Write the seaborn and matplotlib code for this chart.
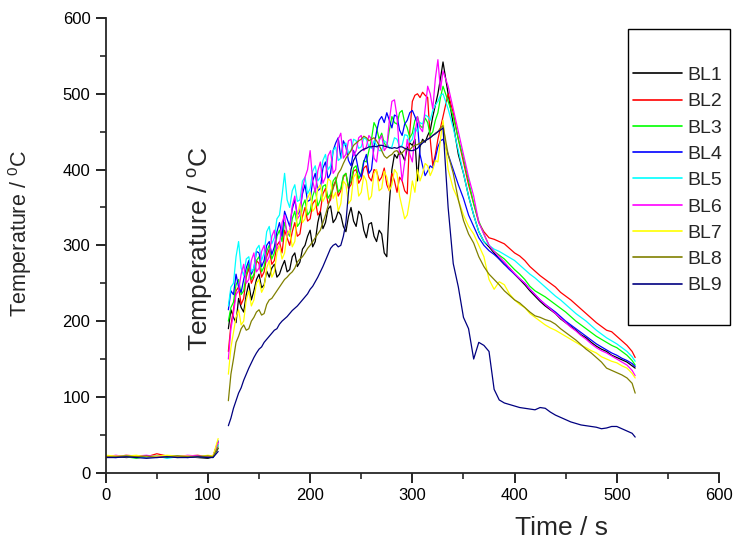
import matplotlib
matplotlib.use("Agg")
import numpy as np
import pandas as pd
import matplotlib.pyplot as plt
import seaborn as sns
from matplotlib.ticker import MultipleLocator
from matplotlib.lines import Line2D
from matplotlib.patches import Rectangle

# ---------------- data ----------------
series = ["BL1", "BL2", "BL3", "BL4", "BL5", "BL6", "BL7", "BL8", "BL9"]
colors = ["#000000", "#ff0000", "#00ff00", "#0000ff", "#00ffff",
          "#ff00ff", "#ffff00", "#808000", "#000080"]

time_base = [0, 10, 20, 30, 40, 50, 60, 70, 80, 90, 100, 105, 110]
time_fire = [120, 122.5, 125, 127.5, 130, 132.5, 135, 137.5, 140, 142.5,
             145, 147.5, 150, 152.5, 155, 157.5, 160, 162.5, 165, 167.5,
             170, 172.5, 175, 177.5, 180, 182.5, 185, 187.5, 190, 192.5,
             195, 197.5, 200, 202.5, 205, 207.5, 210, 212.5, 215, 217.5,
             220, 222.5, 225, 227.5, 230, 232.5, 235, 237.5, 240, 242.5,
             245, 247.5, 250, 252.5, 255, 257.5, 260, 262.5, 265, 267.5,
             270, 272.5, 275, 277.5, 280, 282.5, 285, 287.5, 290, 292.5,
             295, 297.5, 300, 302.5, 305, 307.5, 310, 312.5, 315, 317.5,
             320, 322.5, 325, 327.5, 330,
             335, 340, 345, 350, 355, 360, 365, 370, 375, 380, 385, 390,
             395, 400, 405, 410, 415, 420, 425, 430, 435, 440, 445, 450,
             455, 460, 465, 470, 475, 480, 485, 490, 495, 500, 505, 510,
             515, 518]

BL1_base = [21, 22, 20, 21, 22, 21, 20, 22, 21, 20, 19, 21, 32]
BL2_base = [22, 21, 23, 22, 21, 25, 22, 21, 22, 23, 21, 22, 40]
BL3_base = [20, 22, 21, 19, 22, 21, 22, 20, 21, 22, 20, 21, 37]
BL4_base = [21, 20, 22, 21, 20, 22, 21, 22, 20, 21, 22, 21, 42]
BL5_base = [22, 21, 22, 20, 21, 22, 19, 21, 22, 21, 22, 20, 36]
BL6_base = [21, 23, 21, 22, 23, 21, 22, 21, 23, 22, 21, 22, 40]
BL7_base = [23, 22, 22, 23, 21, 22, 23, 22, 22, 21, 23, 22, 45]
BL8_base = [21, 21, 22, 21, 22, 20, 21, 22, 21, 21, 22, 21, 34]
BL9_base = [20, 20, 21, 20, 19, 20, 21, 20, 20, 21, 20, 20, 28]

BL1_fire = [190, 215, 205, 198, 230, 218, 212, 235, 250, 228, 240, 255, 262,
            244, 248, 266, 258, 270, 275, 258, 262, 272, 280, 265, 268, 285,
            290, 272, 278, 295, 300, 312, 320, 298, 305, 330, 345, 322, 330,
            348, 352, 330, 335, 345, 340, 325, 318, 338, 350, 332, 325, 345,
            340, 320, 310, 328, 330, 312, 305, 320, 315, 290, 285, 356, 400,
            420, 415, 425, 420, 412, 428, 435, 432, 440, 385, 430, 440, 436,
            445, 452, 470, 485, 500, 520, 542,
            500, 460, 420, 395, 365, 340, 318, 305, 298, 290, 282, 275, 270,
            262, 255, 248, 240, 233, 226, 220, 215, 210, 203, 198, 193, 188,
            182, 178, 172, 167, 163, 160, 155, 152, 149, 146, 141, 138]
BL2_fire = [160, 195, 215, 240, 245, 222, 230, 258, 270, 250, 258, 280, 276,
            258, 265, 285, 295, 275, 280, 300, 305, 290, 320, 310, 300, 318,
            330, 312, 315, 338, 350, 332, 335, 355, 360, 340, 345, 368, 375,
            355, 360, 378, 385, 365, 372, 390, 395, 375, 380, 398, 400, 382,
            388, 402, 405, 390, 385, 400, 398, 385, 390, 402, 380, 372, 395,
            385, 370, 390, 385, 372, 368, 450, 490, 498, 500, 495, 502, 498,
            495, 440, 405, 420, 440, 455, 470,
            500, 475, 440, 410, 380, 355, 330, 318, 310, 308, 305, 302, 296,
            290, 286, 280, 272, 266, 260, 255, 250, 245, 238, 233, 228, 222,
            216, 210, 204, 198, 193, 188, 186, 180, 174, 168, 160, 152]
BL3_fire = [200, 218, 225, 248, 255, 235, 240, 262, 275, 255, 262, 280, 285,
            265, 272, 292, 300, 282, 290, 312, 320, 305, 330, 318, 312, 335,
            345, 325, 330, 352, 360, 340, 345, 365, 375, 352, 360, 378, 380,
            362, 368, 385, 390, 370, 375, 392, 395, 378, 385, 402, 405, 388,
            395, 412, 410, 425, 440, 462, 455, 440, 448, 435, 430, 452, 470,
            462, 460, 475, 478, 462, 455, 442, 448, 465, 470, 458, 455, 468,
            462, 445, 450, 465, 475, 495, 510,
            490, 470, 440, 415, 385, 355, 332, 315, 300, 292, 287, 282, 275,
            268, 262, 255, 246, 240, 236, 232, 227, 222, 217, 212, 206, 200,
            195, 190, 185, 180, 176, 172, 168, 165, 160, 155, 148, 142]
BL4_fire = [215, 240, 235, 262, 245, 238, 255, 270, 280, 262, 270, 292, 290,
            272, 280, 300, 305, 288, 298, 318, 330, 312, 345, 335, 325, 348,
            360, 340, 345, 368, 380, 358, 360, 385, 395, 372, 375, 402, 410,
            388, 395, 425, 435, 442, 415, 438, 430, 412, 405, 425, 415, 398,
            390, 410, 420, 395, 400, 430, 450, 465, 470, 462, 475, 465, 455,
            472, 470, 452, 445, 460, 465, 475, 478, 470, 460, 420, 405, 392,
            398, 405, 402, 415, 430, 438, 440,
            420, 400, 380, 362, 340, 325, 310, 300, 293, 288, 282, 275, 268,
            262, 256, 250, 242, 235, 228, 222, 217, 212, 206, 200, 195, 190,
            185, 180, 175, 170, 166, 162, 158, 155, 151, 148, 144, 140]
BL5_fire = [220, 245, 250, 285, 305, 270, 260, 282, 285, 265, 270, 295, 300,
            280, 290, 318, 325, 302, 310, 335, 340, 365, 395, 360, 350, 372,
            380, 358, 360, 385, 390, 368, 375, 398, 405, 385, 390, 412, 420,
            400, 405, 425, 430, 412, 415, 432, 435, 422, 425, 440, 438, 428,
            430, 442, 440, 430, 428, 438, 432, 425, 425, 438, 435, 428, 430,
            442, 440, 430, 432, 446, 445, 436, 440, 455, 450, 462, 460, 472,
            470, 465, 478, 485, 490, 498, 500,
            480, 455, 425, 395, 365, 340, 318, 305, 300, 295, 292, 288, 284,
            280, 274, 268, 262, 257, 251, 245, 239, 233, 228, 222, 216, 210,
            205, 200, 194, 188, 183, 178, 174, 170, 165, 160, 153, 147]
BL6_fire = [150, 190, 210, 235, 240, 262, 275, 250, 255, 280, 290, 265, 270,
            292, 300, 278, 285, 312, 320, 295, 300, 330, 340, 312, 320, 352,
            365, 335, 340, 375, 390, 400, 425, 385, 370, 398, 410, 382, 390,
            418, 425, 395, 400, 440, 448, 415, 420, 438, 440, 418, 425, 442,
            445, 425, 430, 445, 440, 415, 410, 438, 445, 425, 430, 465, 490,
            492, 470, 420, 385, 410, 440, 420, 410, 445, 470, 455, 450, 480,
            510, 500, 480, 520, 545, 505, 530,
            510, 480, 450, 420, 390, 365, 330, 315, 300, 292, 285, 278, 270,
            263, 256, 250, 242, 235, 228, 222, 216, 210, 204, 198, 192, 187,
            181, 176, 170, 165, 161, 158, 154, 150, 146, 142, 135, 128]
BL7_fire = [130, 165, 185, 205, 215, 195, 200, 228, 240, 220, 228, 250, 255,
            238, 245, 270, 280, 258, 265, 290, 300, 282, 290, 315, 320, 298,
            305, 340, 355, 330, 335, 362, 370, 345, 350, 375, 380, 358, 365,
            388, 385, 362, 370, 345, 355, 385, 380, 355, 360, 390, 395, 365,
            370, 392, 385, 360, 365, 395, 400, 372, 375, 398, 390, 372, 380,
            400, 395, 365, 350, 335, 340, 360, 385, 370, 400, 385, 395, 408,
            405, 392, 400, 412, 410, 440, 465,
            400, 375, 360, 340, 325, 315, 300, 285, 255, 242, 252, 248, 236,
            228, 222, 218, 210, 205, 200, 195, 191, 188, 184, 180, 176, 172,
            168, 165, 161, 158, 153, 150, 147, 145, 141, 138, 131, 125]
BL8_fire = [95, 130, 150, 172, 180, 190, 195, 188, 190, 200, 205, 212, 215,
            208, 210, 222, 228, 230, 235, 240, 245, 250, 255, 258, 262, 265,
            270, 278, 282, 285, 290, 296, 300, 305, 310, 315, 320, 330, 340,
            352, 365, 375, 385, 395, 400, 408, 415, 420, 425, 432, 435, 438,
            440, 444, 442, 438, 440, 442, 438, 432, 425, 418, 415, 418, 420,
            424, 425, 420, 422, 426, 428, 426, 430, 432, 433, 435, 437, 438,
            440, 442, 445, 448, 450, 455, 458,
            420, 395, 360, 333, 315, 303, 285, 272, 262, 255, 248, 240, 234,
            228, 224, 218, 212, 207, 205, 202, 200, 196, 190, 185, 180, 175,
            169, 163, 158, 152, 146, 138, 135, 132, 129, 125, 118, 105]
BL9_fire = [62, 72, 85, 95, 105, 112, 122, 130, 138, 145, 152, 158, 163,
            166, 172, 176, 180, 184, 188, 190, 196, 200, 203, 206, 210, 214,
            217, 220, 224, 228, 232, 236, 242, 246, 252, 258, 265, 272, 280,
            288, 296, 300, 302, 298, 300, 312, 330, 370, 400, 412, 418, 422,
            425, 427, 428, 430, 430, 431, 430, 432, 432, 431, 430, 429, 428,
            429, 428, 430, 430, 428, 427, 425, 425, 426, 428, 432, 435, 438,
            440, 442, 445, 447, 450, 452, 455,
            350, 276, 245, 205, 190, 150, 172, 168, 160, 110, 96, 92, 90,
            88, 86, 85, 84, 83, 86, 85, 80, 76, 73, 70, 67, 65,
            63, 62, 61, 60, 58, 59, 61, 61, 58, 55, 52, 47]

base_vals = [BL1_base, BL2_base, BL3_base, BL4_base, BL5_base,
             BL6_base, BL7_base, BL8_base, BL9_base]
fire_vals = [BL1_fire, BL2_fire, BL3_fire, BL4_fire, BL5_fire,
             BL6_fire, BL7_fire, BL8_fire, BL9_fire]

frames = []
for name, b, f in zip(series, base_vals, fire_vals):
    frames.append(pd.DataFrame({"time": time_base, "temp": b,
                                "series": name, "seg": name + "_a"}))
    frames.append(pd.DataFrame({"time": time_fire, "temp": f,
                                "series": name, "seg": name + "_b"}))
df = pd.concat(frames, ignore_index=True)

# ---------------- style ----------------
sns.set_style("ticks")
plt.rcParams["font.family"] = ["Liberation Sans", "DejaVu Sans"]
plt.rcParams["mathtext.fontset"] = "custom"
plt.rcParams["mathtext.rm"] = "Liberation Sans"
plt.rcParams["mathtext.it"] = "Liberation Sans"

fig = plt.figure(figsize=(7.33, 5.44), dpi=100)
ax = fig.add_axes([105.7 / 733, 1 - 472.7 / 544,
                   (719 - 105.7) / 733, (472.7 - 18) / 544])

palette = dict(zip(series, colors))
sns.lineplot(data=df, x="time", y="temp", hue="series", units="seg",
             estimator=None, palette=palette, hue_order=series,
             linewidth=0.9, legend=False, sort=False, ax=ax)

ax.set_xlim(0, 600)
ax.set_ylim(0, 600)
ax.xaxis.set_major_locator(MultipleLocator(100))
ax.xaxis.set_minor_locator(MultipleLocator(50))
ax.yaxis.set_major_locator(MultipleLocator(100))
ax.yaxis.set_minor_locator(MultipleLocator(50))
sns.despine(ax=ax)
for s in ("left", "bottom"):
    ax.spines[s].set_linewidth(1.3)
ax.tick_params(which="major", length=7, width=1.2, direction="out",
               labelsize=12, pad=4, colors="black")
ax.tick_params(which="minor", length=4, width=1.2, direction="out")

ax.set_xlabel("Time / s", fontsize=19)
ax.xaxis.label.set_va("center")
ax.xaxis.set_label_coords(0.743, -0.1216)

ax.set_ylabel("Temperature / $^{0}$C", fontsize=15.5)
ax.yaxis.label.set_va("center")
ax.yaxis.set_label_coords(-0.14, 0.525)

ax.text(0.155, 0.492, "Temperature / $^{\\mathrm{o}}$C", transform=ax.transAxes,
        rotation=90, ha="center", va="center", fontsize=19)

# legend
handles = [Line2D([], [], color=c, lw=1.2) for c in colors]
fig.legend(handles, series, loc="upper left",
           bbox_to_anchor=(633 / 733, 1 - 66.6 / 544), frameon=False,
           fontsize=14, handlelength=49 / 19.4, handletextpad=5 / 19.4,
           labelspacing=0.445, borderpad=0, borderaxespad=0)
fig.add_artist(Rectangle((628 / 733, 1 - 325 / 544), 102 / 733, 296 / 544,
                         transform=fig.transFigure, fill=False,
                         edgecolor="black", linewidth=1.0))

fig.savefig("out.png", dpi=100)
